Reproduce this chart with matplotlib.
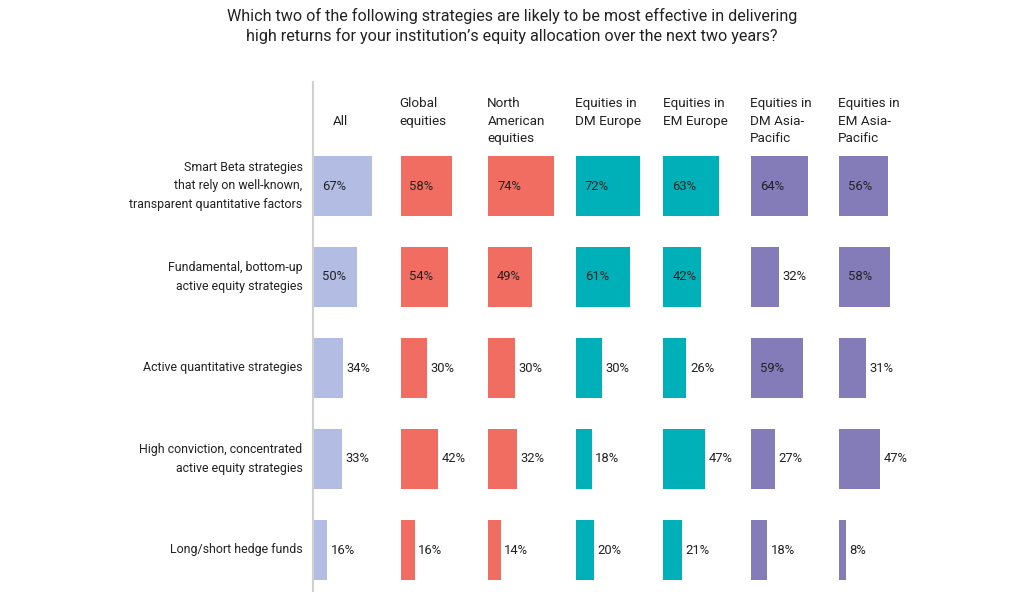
import matplotlib.pyplot as plt
import numpy as np

plt.rcParams['font.family'] = ['Roboto', 'DejaVu Sans']

title = ("Which two of the following strategies are likely to be most effective in delivering\n"
         "high returns for your institution\u2019s equity allocation over the next two years?")

columns = ["All", "Global\nequities", "North\nAmerican\nequities", "Equities in\nDM Europe",
           "Equities in\nEM Europe", "Equities in\nDM Asia-\nPacific", "Equities in\nEM Asia-\nPacific"]

strategies = ["Smart Beta strategies\nthat rely on well-known,\ntransparent quantitative factors",
              "Fundamental, bottom-up\nactive equity strategies",
              "Active quantitative strategies",
              "High conviction, concentrated\nactive equity strategies",
              "Long/short hedge funds"]

# rows = strategies, columns = regions
values = np.array([
    [67, 58, 74, 72, 63, 64, 56],
    [50, 54, 49, 61, 42, 32, 58],
    [34, 30, 30, 30, 26, 59, 31],
    [33, 42, 32, 18, 47, 27, 47],
    [16, 16, 14, 20, 21, 18, 8],
])

colors = ["#b3bde3", "#f26d61", "#f26d61", "#00b0b9", "#00b0b9", "#847cb9", "#847cb9"]

fig = plt.figure(figsize=(10.24, 5.92), dpi=100)
ax = fig.add_axes([0, 0, 1, 1])

px = 0.885          # pixels per percent point
x0 = 313            # left edge of first column in pixels
row0, row_gap = 186, 91
ax.set_xlim(-x0 / px, (1024 - x0) / px)
ax.set_ylim((592 - row0) / row_gap, -row0 / row_gap)
ax.axis("off")

col_step = 99
for j in range(len(columns)):
    left = j * col_step
    ax.barh(np.arange(len(strategies)), values[:, j], left=left, height=0.67,
            color=colors[j])
    for i, v in enumerate(values[:, j]):
        inside = v >= 49 or (i < 2 and v >= 40)
        if inside:
            ax.text(left + 10, i, f"{v}%", ha="left", va="center", fontsize=9.4, color="#222222")
        else:
            ax.text(left + v + 4, i, f"{v}%", ha="left", va="center", fontsize=9.4, color="#222222")
    label = columns[j] if j > 0 else "\n" + columns[j]
    hx = left + (22 if j == 0 else -1)
    ax.text(hx, -0.975, label, ha="left", va="top", fontsize=9.7, color="#222222",
            linespacing=1.45)

for i, s in enumerate(strategies):
    ax.text(-12, i, s, ha="right", va="center", fontsize=8.9, color="#222222", linespacing=1.55)

ax.plot([0, 0], [-1.14, 4.6], color="#d0d0d0", lw=1.5, clip_on=False)

fig.text(0.5, 0.986, title, ha="center", va="top", fontsize=11.6, color="#222222",
         linespacing=1.3)

fig.savefig("out.png", dpi=100)
